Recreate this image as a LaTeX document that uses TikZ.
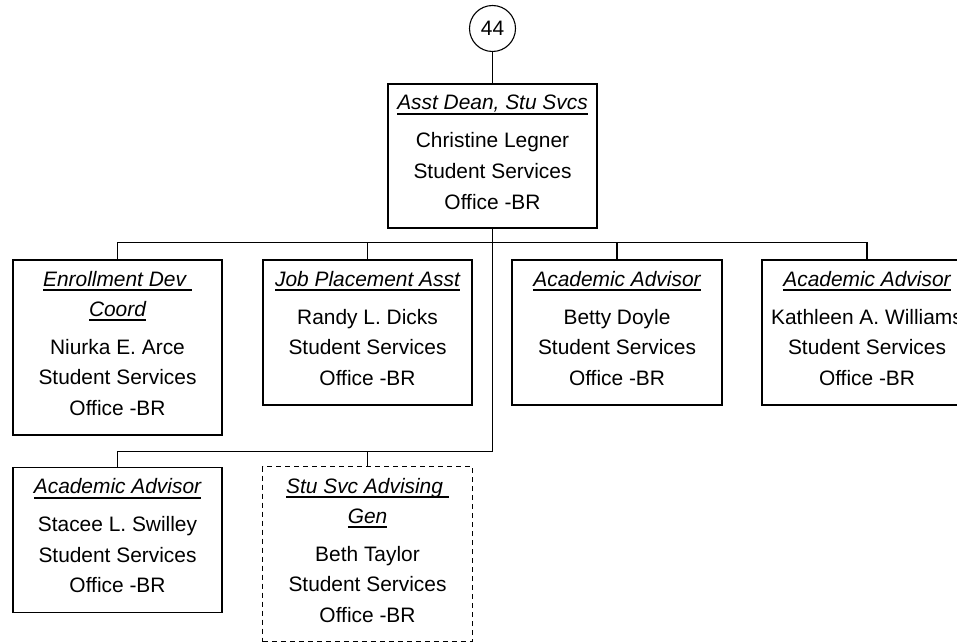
\documentclass[tikz,border=0pt]{standalone}
\usepackage{fontspec}
\setmainfont{Liberation Sans}
\newcommand\mainsize{\fontsize{20.9bp}{30bp}\selectfont}
\newcommand\myul[1]{\leavevmode\setbox0\hbox{#1}\rlap{\rule[-5bp]{\wd0}{1.6bp}}\box0}
\begin{document}
\begin{tikzpicture}[x=1bp,y=-1bp,
  unit/.style={draw=black, line width=1.6bp, minimum width=209.5bp, inner sep=0pt, anchor=north},
  vacant/.style={unit, line width=1.4bp, dash pattern=on 5bp off 4bp},
  txt/.style={anchor=base, inner sep=0pt, font=\mainsize},
  ttl/.style={anchor=base, inner sep=0pt, font=\mainsize\itshape},
  circ/.style={draw=black, circle, line width=1.1bp, minimum size=46bp, inner sep=0pt, font=\mainsize},
  link/.style={draw=black, line width=1.4bp}]
\clip (0,0) rectangle (957,643);
\fill[white] (0,0) rectangle (957,643);

% circle
\node[circ] (c44) at (492.5,28.5) {44};

% top box
\node[unit, minimum height=144bp] (top) at (492.5,83) {};
\node[ttl] (top-t) at ([yshift=-27bp]top.north) {\myul{Asst Dean, Stu Svcs}};
\node[txt] (top-n) at ([yshift=-65bp]top.north) {Christine Legner};
\node[txt] (top-d) at ([yshift=-95.5bp]top.north) {Student Services};
\node[txt] (top-o) at ([yshift=-126bp]top.north) {Office -BR};

% row 1
\node[unit, minimum height=175bp] (b1) at (117.5,259) {};
\node[ttl] (b1-t) at ([yshift=-27bp]b1.north) {\myul{Enrollment Dev\ }};
\node[ttl] (b1-u) at ([yshift=-57bp]b1.north) {\myul{Coord}};
\node[txt] (b1-n) at ([yshift=-95bp]b1.north) {Niurka E. Arce};
\node[txt] (b1-d) at ([yshift=-125.5bp]b1.north) {Student Services};
\node[txt] (b1-o) at ([yshift=-156bp]b1.north) {Office -BR};

\node[unit, minimum height=145bp] (b2) at (367.5,259) {};
\node[ttl] (b2-t) at ([yshift=-27bp]b2.north) {\myul{Job Placement Asst}};
\node[txt] (b2-n) at ([yshift=-65bp]b2.north) {Randy L. Dicks};
\node[txt] (b2-d) at ([yshift=-95.5bp]b2.north) {Student Services};
\node[txt] (b2-o) at ([yshift=-126bp]b2.north) {Office -BR};

\node[unit, minimum height=145bp] (b3) at (617,259) {};
\node[ttl] (b3-t) at ([yshift=-27bp]b3.north) {\myul{Academic Advisor}};
\node[txt] (b3-n) at ([yshift=-65bp]b3.north) {Betty Doyle};
\node[txt] (b3-d) at ([yshift=-95.5bp]b3.north) {Student Services};
\node[txt] (b3-o) at ([yshift=-126bp]b3.north) {Office -BR};

\node[unit, minimum height=145bp] (b4) at (867,259) {};
\node[ttl] (b4-t) at ([yshift=-27bp]b4.north) {\myul{Academic Advisor}};
\node[txt] (b4-n) at ([yshift=-65bp]b4.north) {Kathleen A. Williams};
\node[txt] (b4-d) at ([yshift=-95.5bp]b4.north) {Student Services};
\node[txt] (b4-o) at ([yshift=-126bp]b4.north) {Office -BR};

% row 2
\node[unit, minimum height=145bp] (b5) at (117.5,466.5) {};
\node[ttl] (b5-t) at ([yshift=-27bp]b5.north) {\myul{Academic Advisor}};
\node[txt] (b5-n) at ([yshift=-65bp]b5.north) {Stacee L. Swilley};
\node[txt] (b5-d) at ([yshift=-95.5bp]b5.north) {Student Services};
\node[txt] (b5-o) at ([yshift=-126bp]b5.north) {Office -BR};

\node[vacant, minimum height=175bp] (b6) at (367.5,466) {};
\node[ttl] (b6-t) at ([yshift=-27bp]b6.north) {\myul{Stu Svc Advising\ }};
\node[ttl] (b6-u) at ([yshift=-57bp]b6.north) {\myul{Gen}};
\node[txt] (b6-n) at ([yshift=-95bp]b6.north) {Beth Taylor};
\node[txt] (b6-d) at ([yshift=-125.5bp]b6.north) {Student Services};
\node[txt] (b6-o) at ([yshift=-156bp]b6.north) {Office -BR};

% connectors
\draw[link] (c44.south) -- (top.north);
\foreach \b in {b1,b2,b3,b4}
  \draw[link] (top.south) -- ++(0,14) -| (\b.north);
\foreach \b in {b5,b6}
  \draw[link] (top.south) -- ++(0,223) -| (\b.north);
\end{tikzpicture}
\end{document}
